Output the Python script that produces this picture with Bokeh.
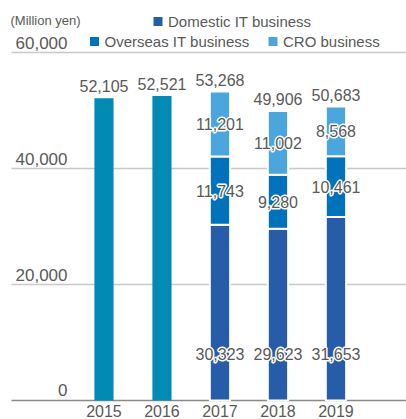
from bokeh.plotting import figure
from bokeh.core.properties import value
from bokeh.embed import file_html
from bokeh.resources import INLINE

years = [2015, 2016, 2017, 2018, 2019]
year_labels = ["2015", "2016", "2017", "2018", "2019"]
totals_old = [52105, 52521]          # 2015, 2016 (single bar)
domestic = [30323, 29623, 31653]     # 2017-2019
overseas = [11743, 9280, 10461]
cro = [11201, 11002, 8568]
totals = ["52,105", "52,521", "53,268", "49,906", "50,683"]
total_vals = [52105, 52521, 53268, 49906, 50683]
y_ticks = [0, 20000, 40000, 60000]
y_tick_labels = ["0", "20,000", "40,000", "60,000"]

W, H = 406, 419
X0, X1 = 2013.216, 2020.216
Y0, Y1 = -3276, 68966

def px2x(px):
    return X0 + px / W * (X1 - X0)

def py2y(py):
    return Y1 - py / H * (Y1 - Y0)

C_OLD = "#008AB4"
C_DOM = "#275CA9"
C_OVS = "#0071BB"
C_CRO = "#4AA6DC"
TXT = "#595959"
FONT = value("Liberation Sans")

p = figure(width=W, height=H, x_range=(X0, X1), y_range=(Y0, Y1),
           output_backend="svg", toolbar_location=None,
           x_axis_location=None, y_axis_location=None, min_border=0)
p.grid.visible = False
p.outline_line_color = None
p.background_fill_color = "white"

# gridlines
gx0 = px2x(11)
p.segment(x0=[gx0] * 3, x1=[X1] * 3, y0=y_ticks[1:], y1=y_ticks[1:],
          line_color="#c8c8c8", line_width=1.5)
p.segment(x0=[gx0], x1=[X1], y0=[0], y1=[0], line_color="#8a8a8a", line_width=1.5)

BW = 0.33
# 2015-2016
p.vbar(x=years[:2], top=totals_old, bottom=0, width=BW, fill_color=C_OLD, line_color=None)

# stacked 2017-2019
sx = years[2:]
d_top = domestic
o_top = [d + o for d, o in zip(domestic, overseas)]
c_top = [a + c for a, c in zip(o_top, cro)]
p.vbar(x=sx, bottom=0, top=d_top, width=BW + 0.02, fill_color=C_DOM, line_color="white", line_width=2)
p.vbar(x=sx, bottom=d_top, top=o_top, width=BW + 0.02, fill_color=C_OVS, line_color="white", line_width=2)
p.vbar(x=sx, bottom=o_top, top=c_top, width=BW + 0.02, fill_color=C_CRO, line_color="white", line_width=2)

# segment labels with white halo
def fmt(v):
    return f"{v:,}"

lab_x = sx * 3
lab_y = [8000] * 3 + [(a + b) / 2 for a, b in zip(d_top, o_top)] + [(a + b) / 2 for a, b in zip(o_top, c_top)]
lab_t = [fmt(v) for v in domestic + overseas + cro]
for dx, dy in [(-1, 0), (1, 0), (0, -1), (0, 1), (0, 0)]:
    p.text(x=lab_x, y=lab_y, text=lab_t, text_align="center", text_baseline="middle",
           x_offset=dx, y_offset=dy,
           text_font=FONT, text_font_size="16px", text_color="white",
           text_outline_color="white")
p.text(x=lab_x, y=lab_y, text=lab_t, text_align="center", text_baseline="middle",
       text_font=FONT, text_font_size="16px", text_color=TXT)

# totals
p.text(x=years, y=total_vals, text=totals, text_align="center", text_baseline="middle",
       y_offset=-12, text_font=FONT, text_font_size="16px", text_color=TXT)

# year labels
p.text(x=years, y=[0] * 5, text=year_labels, text_align="center", text_baseline="middle",
       y_offset=11, text_font=FONT, text_font_size="16px", text_color=TXT)

# y tick labels
p.text(x=[px2x(67)] * 4, y=y_ticks, text=y_tick_labels, text_align="right",
       text_baseline="middle", y_offset=-10, text_font=FONT, text_font_size="17px",
       text_color=TXT)

# unit
p.text(x=[px2x(10)], y=[py2y(20)], text=["(Million yen)"], text_align="left",
       text_baseline="middle", text_font=FONT, text_font_size="13px", text_color=TXT)

# legend
leg_names = ["Domestic IT business", "Overseas IT business", "CRO business"]
leg_colors = [C_DOM, C_OVS, C_CRO]
sq_px = [(157.5, 21), (94, 41), (272.5, 41)]
p.scatter(x=[px2x(a) for a, b in sq_px], y=[py2y(b) for a, b in sq_px], marker="square",
          size=9, fill_color=leg_colors, line_color=None)
p.text(x=[px2x(a + 10) for a, b in sq_px], y=[py2y(b) for a, b in sq_px], text=leg_names,
       text_align="left", text_baseline="middle", text_font=FONT, text_font_size="15px",
       text_color=TXT)

open("out.html", "w").write(file_html(p, INLINE))
